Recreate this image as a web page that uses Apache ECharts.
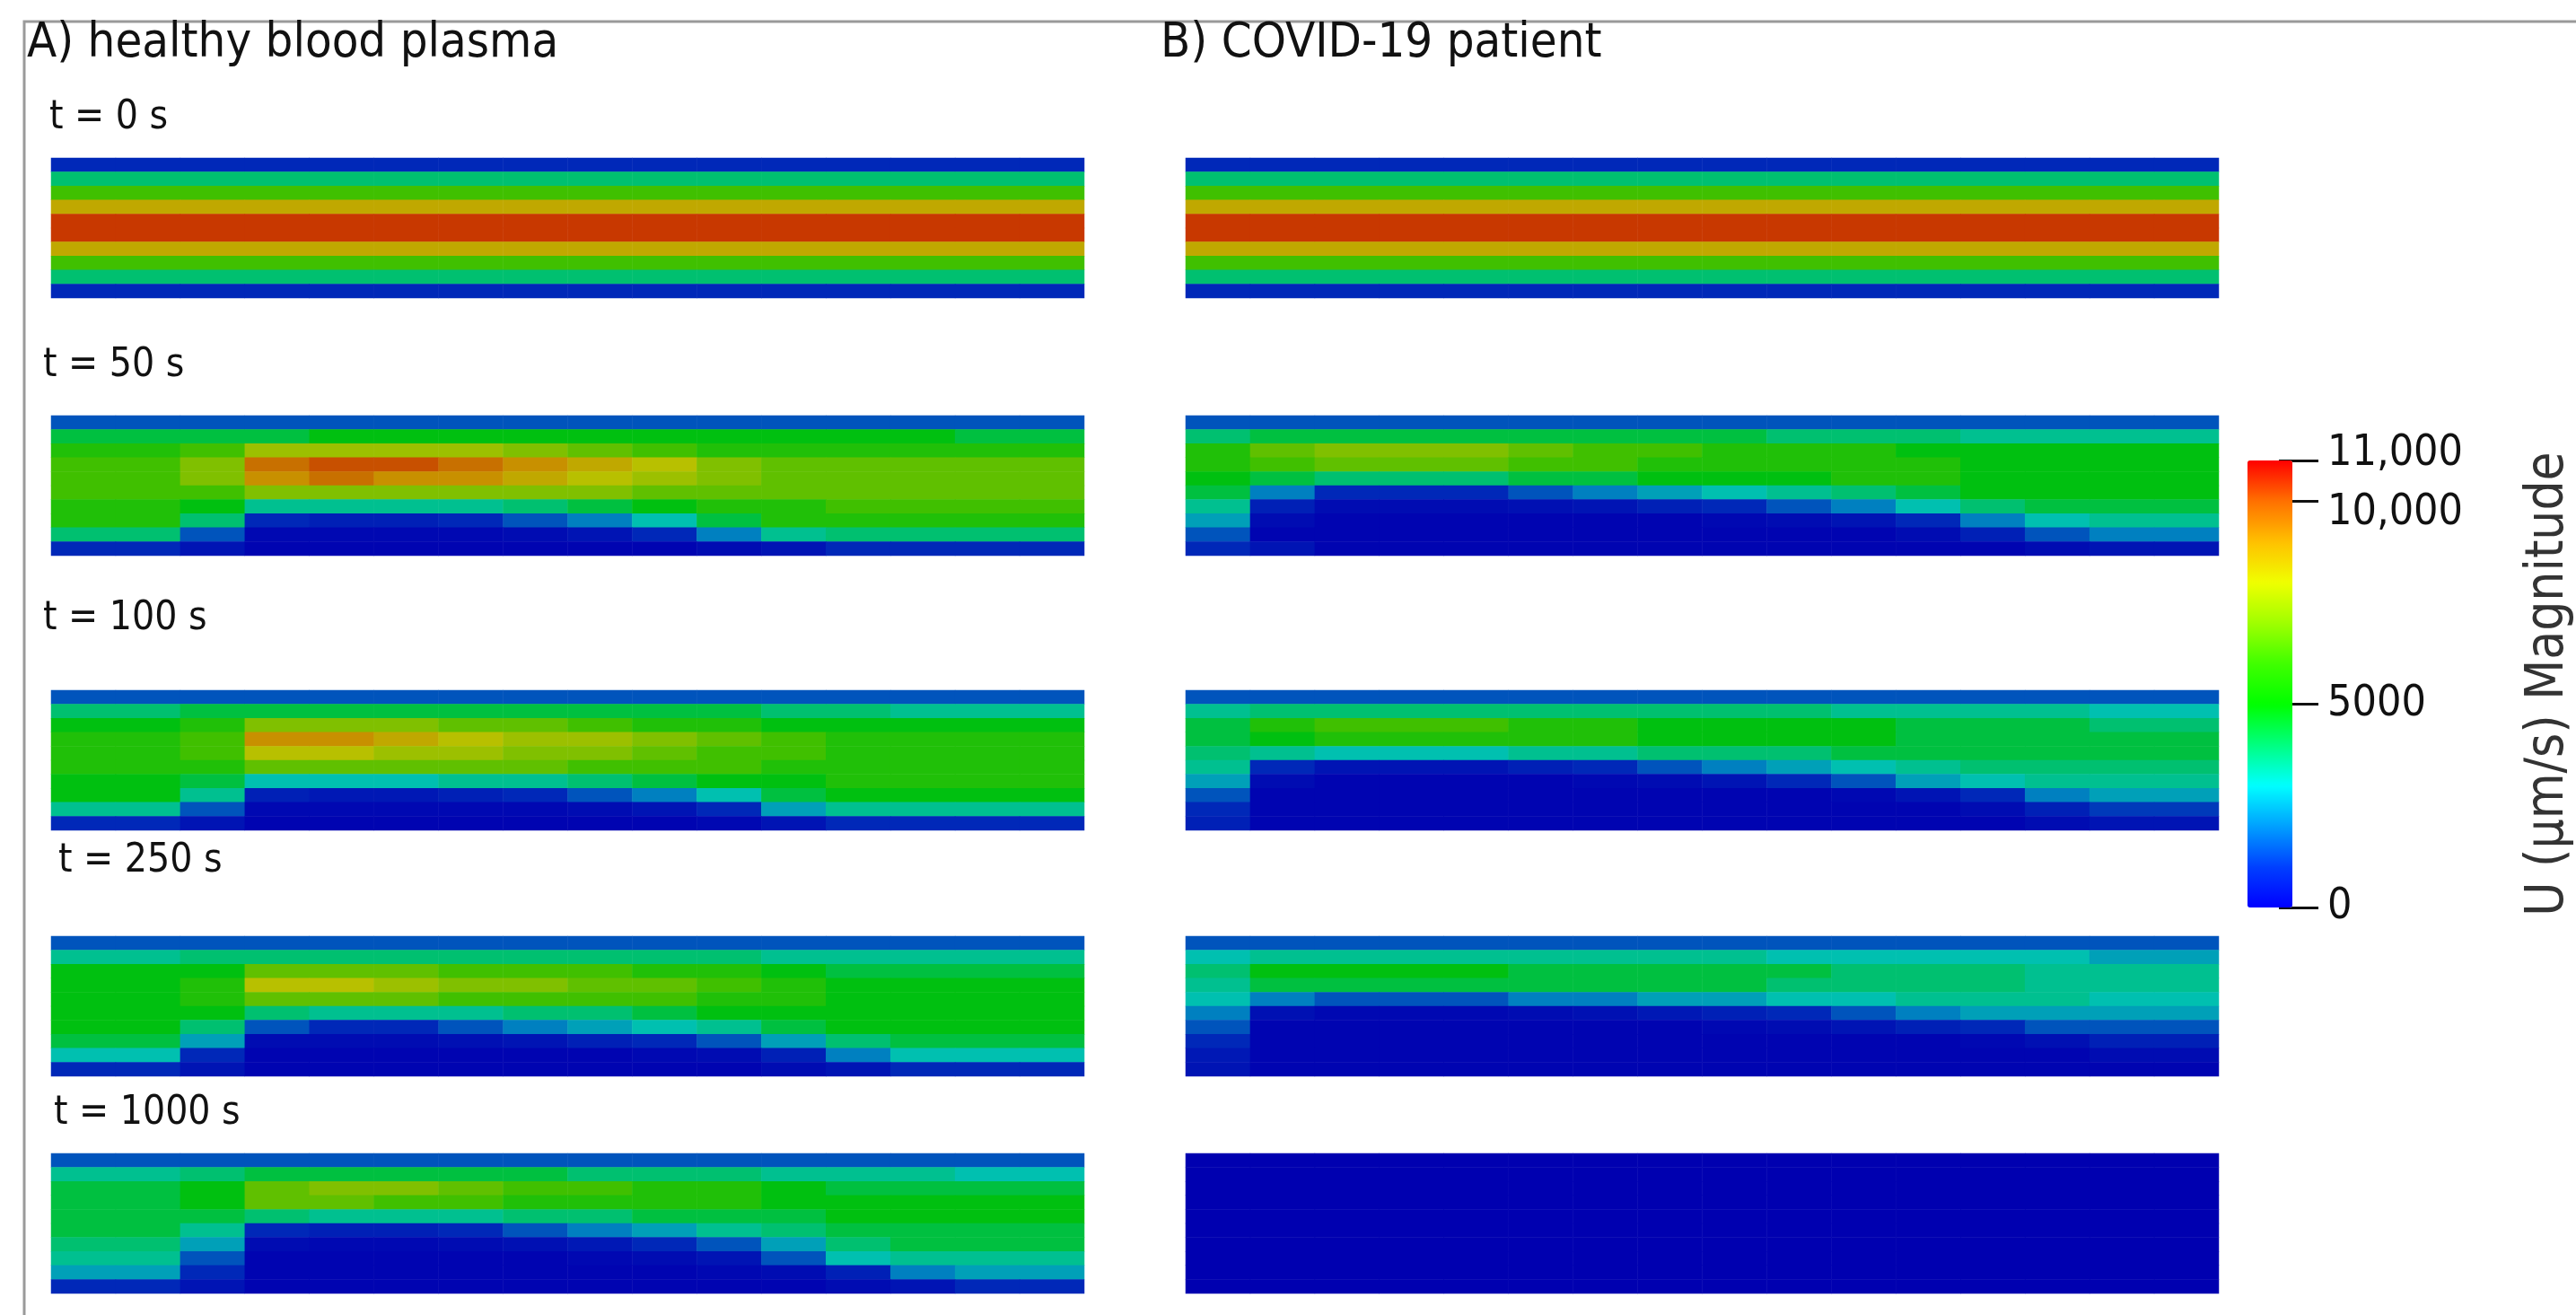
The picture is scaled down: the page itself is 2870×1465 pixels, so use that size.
<!DOCTYPE html>
<html><head><meta charset="utf-8">
<script src="https://cdn.jsdelivr.net/npm/echarts@6/dist/echarts.min.js"></script>
<style>html,body{margin:0;padding:0;background:#fff}#c{width:2870px;height:1465px}</style>
</head><body><div id="c"></div>
<script>
// velocity magnitude in thousands of um/s, rows listed top -> bottom, 16 columns left -> right
const profileT0 = [1, 4, 6, 8.5, 10.5, 10.5, 8.5, 6, 4, 1]; // uniform along the channel at t = 0 s
const A50 = [
 [1.5,1.5,1.5,1.5,1.5,1.5,1.5,1.5,1.5,1.5,1.5,1.5,1.5,1.5,1.5,1.5],
 [4.5,4.5,4.5,4.5,5,5,5,5,5,5,5,5,5,5,4.5,4.5],
 [5.5,5.5,6,7.5,7.5,7.5,7.5,7,6.5,6,5.5,5.5,5.5,5.5,5.5,5.5],
 [6,6,7,9.5,10,10,9.5,9,8.5,8,7,6.5,6.5,6.5,6.5,6.5],
 [6,6,7,9,9.5,9,9,8.5,8,7.5,7,6.5,6.5,6.5,6.5,6.5],
 [6,6,6,7,7,7,7,7,7,6.5,6.5,6.5,6.5,6.5,6.5,6.5],
 [5.5,5.5,5,3.5,3.5,3.5,3.5,4,4.5,5,5.5,5.5,6,6,6,6],
 [5.5,5.5,4,1,0.8,0.8,1,1.5,2,3,4.5,5.5,5.5,5.5,5.5,5.5],
 [4,4,1.5,0.2,0.2,0.2,0.2,0.3,0.5,1,2,3.5,4,4,4,4],
 [1,1,0.5,0.1,0.1,0.1,0.1,0.1,0.1,0.1,0.3,0.5,1,1,1,1]
];
const A100 = [
 [1.5,1.5,1.5,1.5,1.5,1.5,1.5,1.5,1.5,1.5,1.5,1.5,1.5,1.5,1.5,1.5],
 [4,4,4.5,4.5,4.5,4.5,4.5,4.5,4.5,4.5,4.5,4,4,3.5,3.5,3.5],
 [5,5,5.5,7,7,7,6.5,6.5,6,5.5,5.5,5,5,5,5,5],
 [5.5,5.5,6,9,9,8.5,8,7.5,7.5,7,6.5,6,5.5,5.5,5.5,5.5],
 [5.5,5.5,6,8,8,7.5,7.5,7,7,6.5,6,6,5.5,5.5,5.5,5.5],
 [5.5,5.5,5.5,6.5,6.5,6.5,6.5,6.5,6,6,6,5.5,5.5,5.5,5.5,5.5],
 [5,5,4.5,3,3,3,3.5,3.5,4,4.5,5,5,5.5,5.5,5.5,5.5],
 [5,5,3.5,0.8,0.6,0.6,0.8,1,1.5,2,3,4.5,5,5,5,5],
 [3.5,3.5,1.5,0.2,0.2,0.2,0.2,0.2,0.3,0.5,1,2.5,3.5,3.5,3.5,3.5],
 [1,1,0.5,0.1,0.1,0.1,0.1,0.1,0.1,0.1,0.2,0.5,1,1,1,1]
];
const A250 = [
 [1.5,1.5,1.5,1.5,1.5,1.5,1.5,1.5,1.5,1.5,1.5,1.5,1.5,1.5,1.5,1.5],
 [3.5,3.5,4,4,4,4,4,4,4,4,4,3.5,3.5,3.5,3.5,3.5],
 [5,5,5,6.5,6.5,6.5,6,6,6,5.5,5.5,5,4.5,4.5,4.5,4.5],
 [5,5,5.5,8,8,7.5,7,7,6.5,6.5,6,5.5,5,5,5,5],
 [5,5,5.5,6.5,6.5,6.5,6,6,6,6,5.5,5.5,5,5,5,5],
 [5,5,5,4,3.5,3.5,3.5,4,4,4.5,5,5,5,5,5,5],
 [5,5,4,1.5,1,1,1.5,2,2.5,3,3.5,4.5,5,5,5,5],
 [4.5,4.5,2.5,0.3,0.3,0.3,0.4,0.5,0.8,1,1.5,2.5,4,4.5,4.5,4.5],
 [3,3,1,0.1,0.1,0.1,0.1,0.1,0.1,0.2,0.3,0.8,2,3,3,3],
 [1,1,0.5,0.1,0.1,0.1,0.1,0.1,0.1,0.1,0.1,0.3,0.5,1,1,1]
];
const A1000 = [
 [1.5,1.5,1.5,1.5,1.5,1.5,1.5,1.5,1.5,1.5,1.5,1.5,1.5,1.5,1.5,1.5],
 [3.5,3.5,4,4.5,4.5,4.5,4.5,4.5,4,4,4,3.5,3.5,3.5,3,3],
 [4.5,4.5,5,6.5,7,7,6.5,6,6,5.5,5.5,5,4.5,4.5,4.5,4.5],
 [4.5,4.5,5,6.5,6.5,6,6,5.5,5.5,5.5,5.5,5,5,5,5,5],
 [4.5,4.5,4.5,4,3.5,3.5,3.5,4,4,4.5,4.5,4.5,5,5,5,5],
 [4.5,4.5,3.5,1,0.8,0.8,1,1.5,2,2.5,3.5,4,4.5,4.5,4.5,4.5],
 [4,4,2.5,0.3,0.2,0.2,0.3,0.4,0.6,1,1.5,2.5,4,4.5,4.5,4.5],
 [3.5,3.5,1.5,0.1,0.1,0.1,0.1,0.1,0.2,0.3,0.5,1.5,3,3.5,3.5,3.5],
 [2.5,2.5,1,0.1,0.1,0.1,0.1,0.1,0.1,0.1,0.2,0.3,0.8,2,2.5,2.5],
 [1,1,0.5,0.1,0.1,0.1,0.1,0.1,0.1,0.1,0.1,0.1,0.3,0.5,1,1]
];
const B50 = [
 [1.5,1.5,1.5,1.5,1.5,1.5,1.5,1.5,1.5,1.5,1.5,1.5,1.5,1.5,1.5,1.5],
 [4,4.5,4.5,4.5,4.5,4.5,4.5,4.5,4.5,4,4,4,3.5,3.5,3.5,3.5],
 [5.5,6.5,7,7,7,6.5,6,6,5.5,5.5,5.5,5,5,5,5,5],
 [5.5,6,6.5,6.5,6.5,6,6,5.5,5.5,5.5,5.5,5.5,5,5,5,5],
 [5,4.5,4,4,4,4.5,4.5,5,5,5,5.5,5.5,5,5,5,5],
 [4.5,2,1,1,1,1.5,2,2.5,3,3.5,4,4.5,5,5,5,5],
 [3.5,0.8,0.3,0.3,0.3,0.4,0.5,0.8,1,1.5,2,3,4,4.5,4.5,4.5],
 [2.5,0.3,0.1,0.1,0.1,0.1,0.1,0.1,0.2,0.3,0.5,1,2,3,3.5,3.5],
 [1.5,0.1,0.1,0.1,0.1,0.1,0.1,0.1,0.1,0.1,0.1,0.3,0.8,1.5,2,2],
 [1,0.5,0.1,0.1,0.1,0.1,0.1,0.1,0.1,0.1,0.1,0.1,0.1,0.3,0.5,0.5]
];
const B100 = [
 [1.5,1.5,1.5,1.5,1.5,1.5,1.5,1.5,1.5,1.5,1.5,1.5,1.5,1.5,1.5,1.5],
 [3.5,4,4,4,4,4,4,4,4,4,3.5,3.5,3.5,3.5,3,3],
 [4.5,5.5,6,6,6,5.5,5.5,5,5,5,5,4.5,4.5,4.5,4,4],
 [4.5,5,5.5,5.5,5.5,5.5,5.5,5,5,5,5,4.5,4.5,4.5,4.5,4.5],
 [4,3.5,3,3,3,3.5,3.5,4,4,4,4.5,4.5,4.5,4.5,4.5,4.5],
 [3.5,1,0.5,0.5,0.5,0.8,1,1.5,2,2.5,3,3.5,4,4,4,4],
 [2.5,0.3,0.1,0.1,0.1,0.1,0.2,0.3,0.5,1,1.5,2.5,3,3.5,3.5,3.5],
 [1.5,0.1,0.1,0.1,0.1,0.1,0.1,0.1,0.1,0.1,0.2,0.5,1,2,2.5,2.5],
 [1,0.1,0.1,0.1,0.1,0.1,0.1,0.1,0.1,0.1,0.1,0.1,0.3,0.8,1.2,1.2],
 [0.8,0.1,0.1,0.1,0.1,0.1,0.1,0.1,0.1,0.1,0.1,0.1,0.1,0.3,0.5,0.5]
];
const B250 = [
 [1.5,1.5,1.5,1.5,1.5,1.5,1.5,1.5,1.5,1.5,1.5,1.5,1.5,1.5,1.5,1.5],
 [3,3.5,3.5,3.5,3.5,3.5,3.5,3.5,3.5,3,3,3,3,3,2.5,2.5],
 [4,5,5,5,5,4.5,4.5,4.5,4.5,4.5,4,4,4,3.5,3.5,3.5],
 [3.5,4.5,4.5,4.5,4.5,4.5,4.5,4.5,4.5,4,4,4,4,3.5,3.5,3.5],
 [3,2,1.5,1.5,1.5,2,2,2.5,2.5,3,3,3.5,3.5,3.5,3,3],
 [2,0.4,0.2,0.2,0.2,0.3,0.4,0.6,0.8,1,1.5,2,2.5,2.5,2.5,2.5],
 [1.5,0.1,0.1,0.1,0.1,0.1,0.1,0.1,0.2,0.3,0.5,0.8,1,1.5,1.5,1.5],
 [1,0.1,0.1,0.1,0.1,0.1,0.1,0.1,0.1,0.1,0.1,0.1,0.2,0.4,0.8,0.8],
 [0.6,0.1,0.1,0.1,0.1,0.1,0.1,0.1,0.1,0.1,0.1,0.1,0.1,0.1,0.3,0.3],
 [0.5,0.1,0.1,0.1,0.1,0.1,0.1,0.1,0.1,0.1,0.1,0.1,0.1,0.1,0.1,0.1]
];
const B1000 = [
 [0,0,0,0,0,0,0,0,0,0,0,0,0,0,0,0],[0,0,0,0,0,0,0,0,0,0,0,0,0,0,0,0],
 [0,0,0,0,0,0,0,0,0,0,0,0,0,0,0,0],[0,0,0,0,0,0,0,0,0,0,0,0,0,0,0,0],
 [0,0,0,0,0,0,0,0,0,0,0,0,0,0,0,0],[0,0,0,0,0,0,0,0,0,0,0,0,0,0,0,0],
 [0,0,0,0,0,0,0,0,0,0,0,0,0,0,0,0],[0,0,0,0,0,0,0,0,0,0,0,0,0,0,0,0],
 [0,0,0,0,0,0,0,0,0,0,0,0,0,0,0,0],[0,0,0,0,0,0,0,0,0,0,0,0,0,0,0,0]
];
const timeLabels = ['t = 0 s', 't = 50 s', 't = 100 s', 't = 250 s', 't = 1000 s'];
const colorTicks = [0, 5000, 10000, 11000];

const FONT = '"DejaVu Sans Condensed", "DejaVu Sans", sans-serif';
const A0 = profileT0.map(v => new Array(16).fill(v));
const panels = [A0, A50, A100, A250, A1000, A0, B50, B100, B250, B1000];
const rowTops = [176, 463, 769, 1043, 1285];
const rowH = 156;
const colLeft = [57, 1321];
const panelW = 1151;

const grids = [], xAxes = [], yAxes = [], series = [];
panels.forEach((p, i) => {
  const col = i < 5 ? 0 : 1, row = i % 5;
  grids.push({left: colLeft[col], top: rowTops[row], width: panelW, height: rowH});
  const nr = p.length, nc = p[0].length;
  xAxes.push({type: 'category', gridIndex: i, data: Array.from({length: nc}, (_, k) => k), show: false});
  yAxes.push({type: 'category', gridIndex: i, data: Array.from({length: nr}, (_, k) => k), show: false});
  const data = [];
  p.forEach((r, ri) => r.forEach((v, ci) => data.push([ci, nr - 1 - ri, v * 1000])));
  series.push({type: 'heatmap', xAxisIndex: i, yAxisIndex: i, data, itemStyle: {borderWidth: 0}, emphasis: {disabled: true}});
});
// colour bar axis
grids.push({left: 2504, top: 513, width: 50, height: 498});
xAxes.push({type: 'category', gridIndex: 10, data: [0], show: false});
yAxes.push({type: 'value', gridIndex: 10, min: 0, max: 11000, position: 'right',
  axisLine: {show: false}, splitLine: {show: false},
  axisTick: {show: true, length: 44, lineStyle: {color: '#111', width: 3}, customValues: colorTicks},
  axisLabel: {show: true, margin: 54, fontSize: 48, color: '#111', fontFamily: FONT, customValues: colorTicks,
    showMinLabel: true, showMaxLabel: true, hideOverlap: false,
    formatter: v => v === 11000 ? '{hi|11,000}' : v === 10000 ? '{lo|10,000}' : String(v),
    rich: {hi: {fontSize: 48, fontFamily: FONT, color: '#111', padding: [0, 0, 14, 0]},
           lo: {fontSize: 48, fontFamily: FONT, color: '#111', padding: [26, 0, 0, 0]}}},
  name: 'U (μm/s) Magnitude', nameLocation: 'middle', nameRotate: 90, nameGap: 272,
  nameTextStyle: {fontSize: 58, color: '#333', fontFamily: FONT}});
series.push({type: 'scatter', xAxisIndex: 10, yAxisIndex: 10, data: []});

const txt = (x, y, s, size) => ({type: 'text', left: x, top: y, style: {text: s, fontSize: size, fill: '#111', fontFamily: FONT}});
const graphics = [
  {type: 'rect', shape: {x: 27, y: 24, width: 2900, height: 1500}, style: {fill: 'none', stroke: '#9a9a9a', lineWidth: 3}, silent: true},
  txt(30, 22, 'A) healthy blood plasma', 54),
  txt(1293, 22, 'B) COVID-19 patient', 54),
  txt(55, 110, timeLabels[0], 44),
  txt(48, 386, timeLabels[1], 44),
  txt(48, 668, timeLabels[2], 44),
  txt(65, 938, timeLabels[3], 44),
  txt(60, 1219, timeLabels[4], 44)
];

const chart = echarts.init(document.getElementById('c'));
chart.setOption({
  animation: false,
  grid: grids, xAxis: xAxes, yAxis: yAxes, series,
  visualMap: [
    {type: 'continuous', min: 0, max: 11000, show: false, seriesIndex: [0,1,2,3,4,5,6,7,8,9],
     inRange: {color: ['#0000b0','#0028b8','#0080c0','#00c0b0','#00c070','#00c010','#40c000','#80c000','#b8c000','#c89000','#c85000','#c82000']}},
    {type: 'continuous', min: 0, max: 11000, show: true, seriesIndex: [10], left: 2504, top: 513,
     itemWidth: 50, itemHeight: 498, padding: 0, text: ['', ''], calculable: false, showLabel: false,
     inRange: {color: ['#0000ff','#0040ff','#00a0ff','#00ffff','#00ff80','#00ff00','#40ff00','#a0ff00','#f0ff00','#ffc000','#ff7000','#ff0000']}}
  ],
  graphic: graphics
});
</script></body></html>
